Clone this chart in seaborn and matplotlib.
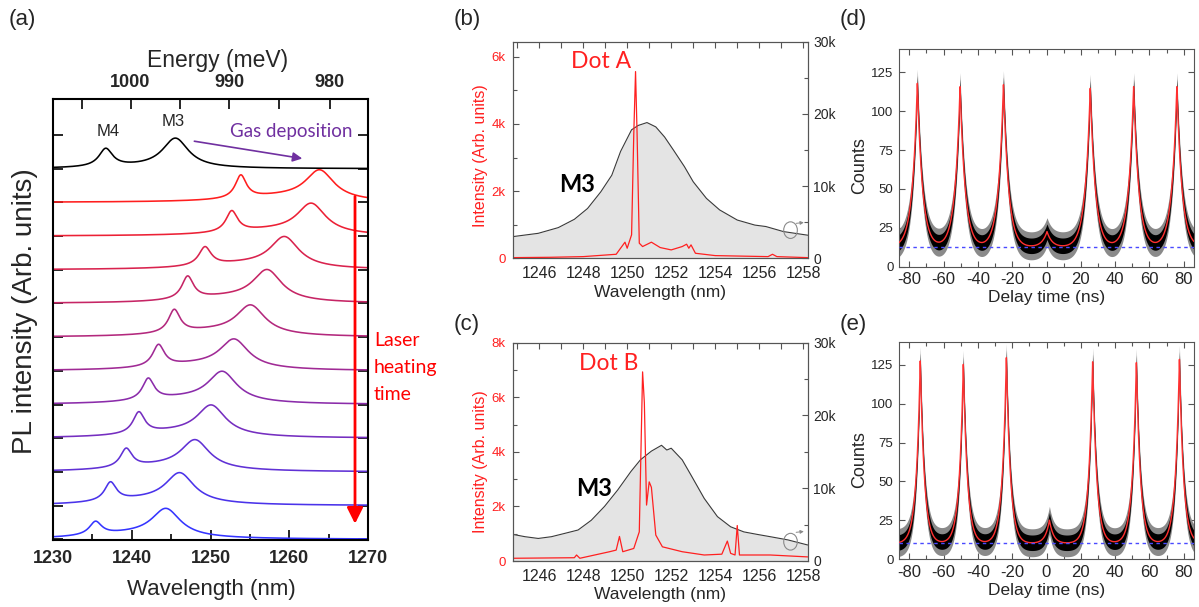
import numpy as np
import pandas as pd
import matplotlib
matplotlib.use("Agg")
import matplotlib.pyplot as plt
import seaborn as sns
from matplotlib.patches import Ellipse
from matplotlib.ticker import MultipleLocator, FuncFormatter, FixedLocator
from matplotlib.colors import LinearSegmentedColormap

sns.set_theme(style="ticks")
plt.rcParams["font.family"] = ["Liberation Sans", "DejaVu Sans"]
plt.rcParams["axes.unicode_minus"] = False
ANN = ["Lato", "DejaVu Sans"]

# ---------------- Panel (a): PL spectra (level 0 = bottom, 11 = black/gas) --------
a_levels = [0, 1, 2, 3, 4, 5, 6, 7, 8, 9, 10, 11]
a_m4_nm = [1235.4, 1237.3, 1239.3, 1240.9, 1242.1, 1243.4, 1245.4, 1247.1, 1249.3, 1252.7, 1253.85, 1236.7]
a_m4_h = [0.54, 0.71, 0.71, 0.79, 0.79, 0.79, 0.83, 0.82, 0.69, 0.76, 0.82, 0.61]
a_m4_hwhm = [0.95, 0.9, 0.9, 0.9, 0.9, 0.9, 0.9, 0.9, 0.95, 0.9, 0.85, 1.05]
a_m3_nm = [1244.35, 1246.1, 1248.05, 1250.1, 1251.5, 1253.0, 1255.1, 1257.2, 1259.4, 1262.8, 1263.86, 1245.55]
a_m3_h = [0.92, 0.98, 0.96, 0.99, 0.99, 0.95, 0.96, 1.01, 0.99, 0.98, 0.97, 0.91]
a_m3_hwhm = [2.2, 2.2, 2.2, 2.2, 2.2, 2.2, 2.2, 2.2, 2.2, 2.2, 2.2, 2.0]
a_bg = [0.14, 0.15, 0.15, 0.16, 0.16, 0.16, 0.16, 0.16, 0.15, 0.15, 0.15, 0.05]
a_xticks = [1230, 1240, 1250, 1260, 1270]
a_eticks = [980, 990, 1000]

# ---------------- Panels (b),(c): spectra (values in k counts) ----------------
b_m3_nm = [1244.8, 1245.96, 1246.87, 1247.6, 1248.2, 1248.8, 1249.3, 1249.7, 1250.2, 1250.5,
           1250.9, 1251.3, 1251.7, 1252.1, 1252.6, 1253.0, 1253.6, 1254.2, 1255.0, 1255.8,
           1256.3, 1257.1, 1258.2]
b_m3_k = [3.0, 3.46, 4.25, 5.4, 6.9, 9.2, 11.5, 14.8, 17.8, 18.4,
          18.8, 18.2, 16.8, 15.0, 12.7, 10.6, 8.3, 6.7, 5.3, 4.6,
          4.4, 3.7, 3.2]
b_dot_nm = [1244.8, 1246.5, 1248.0, 1249.5, 1249.9, 1250.0, 1250.2, 1250.3, 1250.38, 1250.45,
            1250.55, 1250.7, 1251.1, 1251.5, 1252.0, 1252.5, 1252.7, 1252.8, 1252.9, 1253.1,
            1254.0, 1256.4, 1256.6, 1256.8, 1258.2]
b_dot_k = [0.02, 0.03, 0.05, 0.12, 0.48, 0.3, 0.7, 3.7, 5.56, 3.7,
           0.45, 0.35, 0.48, 0.32, 0.25, 0.35, 0.42, 0.3, 0.4, 0.15,
           0.08, 0.05, 0.12, 0.05, 0.02]

c_m3_nm = [1244.8, 1245.36, 1245.96, 1246.56, 1247.17, 1247.77, 1248.37, 1248.97, 1249.57, 1250.17,
           1250.6, 1251.1, 1251.56, 1251.8, 1252.0, 1252.5, 1252.9, 1253.5, 1254.1, 1254.7,
           1255.3, 1255.9, 1256.5, 1257.3, 1258.2]
c_m3_k = [3.66, 3.34, 3.1, 3.34, 3.8, 4.26, 5.6, 7.5, 9.76, 12.3,
          13.9, 15.1, 15.9, 15.25, 15.5, 13.9, 11.8, 8.6, 6.1, 4.7,
          4.0, 3.66, 3.34, 2.9, 2.2]
c_dot_nm = [1244.8, 1247.6, 1247.7, 1247.85, 1249.2, 1249.5, 1249.65, 1249.8, 1250.3, 1250.55,
            1250.7, 1250.78, 1250.88, 1251.0, 1251.1, 1251.3, 1251.6, 1252.5, 1253.5, 1254.3,
            1254.55, 1254.7, 1254.9, 1255.0, 1255.1, 1256.5, 1258.2]
c_dot_k = [0.1, 0.12, 0.22, 0.1, 0.34, 0.4, 0.9, 0.34, 0.46, 1.07,
           6.93, 5.8, 2.05, 2.9, 2.7, 0.95, 0.52, 0.34, 0.22, 0.25,
           0.73, 0.28, 0.22, 1.3, 0.22, 0.22, 0.15]

# ---------------- Panels (d),(e): correlation peaks ----------------
d_peak_t = [-75.3, -50.4, -25.1, 0.3, 25.5, 50.8, 76.0]
d_peak_h = [117.9, 115.7, 117.0, 22.5, 114.7, 115.7, 115.7]
d_base = 12.5
d_tau = 3.0
e_peak_t = [-73.6, -48.5, -23.4, 1.7, 26.9, 52.4, 77.5]
e_peak_h = [127.6, 125.4, 129.7, 25.0, 127.0, 126.5, 128.6]
e_base = 10.0
e_tau = 2.4

W, H = 1199, 607
fig = plt.figure(figsize=(W / 100, H / 100), dpi=100)


def box(l, t, r, b):
    return [l / W, 1 - b / H, (r - l) / W, (b - t) / H]


def ftext(x, y, s, **kw):
    fig.text(x / W, 1 - y / H, s, **kw)


axA = fig.add_axes(box(53, 99, 368, 540))
axB = fig.add_axes(box(512.7, 41.7, 807.7, 258.3))
axC = fig.add_axes(box(512.7, 342.7, 807.7, 561))
axD = fig.add_axes(box(899, 49, 1194, 266.7))
axE = fig.add_axes(box(899, 341.7, 1194, 559))


def lor(x, c, g):
    return 1.0 / (1.0 + ((x - c) / g) ** 2)


# ---------- (a) ----------
xa = np.linspace(1230, 1270, 1201)
cmap = LinearSegmentedColormap.from_list("rb", ["#3535ff", "#a02a95", "#ff1e1e"])
frames = []
palette = {}
for i, lev in enumerate(a_levels):
    c1, c2 = a_m4_nm[i], a_m3_nm[i]
    g1, g2 = a_m4_hwhm[i], a_m3_hwhm[i]
    mid = 0.5 * (c1 + c2)
    bg = lambda x: a_bg[i] * lor(x, mid, 7.0)
    M = np.array([[1.0, lor(c1, c2, g2)], [lor(c2, c1, g1), 1.0]])
    rhs = np.array([a_m4_h[i] - bg(c1), a_m3_h[i] - bg(c2)])
    A1, A2 = np.linalg.solve(M, rhs)
    y = lev + bg(xa) + A1 * lor(xa, c1, g1) + A2 * lor(xa, c2, g2)
    frames.append(pd.DataFrame({"nm": xa, "val": y, "trace": f"t{i}"}))
    palette[f"t{i}"] = "black" if lev == 11 else cmap(lev / 10)
dfa = pd.concat(frames)
sns.lineplot(data=dfa, x="nm", y="val", hue="trace", palette=palette, legend=False,
             ax=axA, estimator=None, sort=False, lw=1.15)
axA.set_xlim(1230, 1270)
axA.set_ylim(-0.02, 13.07)
axA.set_xticks(a_xticks)
axA.xaxis.set_minor_locator(MultipleLocator(5))
axA.set_yticks(range(0, 13))
axA.set_yticklabels([])
axA.set_xlabel("")
axA.set_ylabel("")
axA.tick_params(axis="x", which="both", direction="in", top=False, width=1.4, pad=7,
                labelsize=13)
axA.tick_params(axis="x", which="major", length=7)
axA.tick_params(axis="x", which="minor", length=4)
axA.tick_params(axis="y", direction="in", left=True, right=True, length=7, width=1.4)
for lab in axA.get_xticklabels():
    lab.set_fontweight("bold")
for sp in axA.spines.values():
    sp.set_visible(True)
    sp.set_linewidth(1.5)
    sp.set_color("black")

conv = lambda v: 1239841.98 / np.asarray(v, dtype=float)
sec = axA.secondary_xaxis("top", functions=(conv, conv))
sec.set_xticks(a_eticks)
sec.xaxis.set_minor_locator(FixedLocator([985, 995, 1005]))
sec.tick_params(which="both", direction="in", width=1.4, pad=6, labelsize=13)
sec.tick_params(which="major", length=7)
sec.tick_params(which="minor", length=7)
for lab in sec.get_xticklabels():
    lab.set_fontweight("bold")

axA.text(1237.0, 12.1, "M4", ha="center", va="center", fontsize=12)
axA.text(1245.3, 12.4, "M3", ha="center", va="center", fontsize=12)
axA.text(1252.5, 12.12, "Gas deposition", ha="left", va="center", fontsize=13.5,
         color="#7030a0", family=ANN)
axA.annotate("", xy=(1262.0, 11.29), xytext=(1247.6, 11.83),
             arrowprops=dict(arrowstyle="-|>", color="#7030a0", lw=1.2, mutation_scale=14))
axA.annotate("", xy=(1268.35, 0.38), xytext=(1268.35, 10.26),
             arrowprops=dict(arrowstyle="-|>", color="red", lw=2.0, mutation_scale=24))
ftext(374, 340, "Laser", ha="left", va="center", fontsize=14, color="red", family=ANN)
ftext(374, 367, "heating", ha="left", va="center", fontsize=14, color="red", family=ANN)
ftext(374, 394, "time", ha="left", va="center", fontsize=14, color="red", family=ANN)
ftext(218, 60, "Energy (meV)", ha="center", va="center", fontsize=16.5)
ftext(211, 589, "Wavelength (nm)", ha="center", va="center", fontsize=16)
ftext(25, 311, "PL intensity (Arb. units)", ha="center", va="center", fontsize=20, rotation=90)

# ---------- (b), (c) ----------
kfmt = FuncFormatter(lambda v, p: "0" if abs(v) < 1e-9 else f"{v / 1000:g}k")
SP = "#555555"


def spectrum(ax, m3_nm, m3_k, dot_nm, dot_k, left_top, left_major, dot_label, dot_xy, m3_xy,
             circ_y, arr_y):
    m3 = pd.DataFrame({"nm": m3_nm, "cnt": np.array(m3_k) * 1000})
    dot = pd.DataFrame({"nm": dot_nm, "cnt": np.array(dot_k) * 1000})
    ax.fill_between(m3["nm"], 0, m3["cnt"], color="#e4e4e4", lw=0)
    sns.lineplot(data=m3, x="nm", y="cnt", ax=ax, color="#3a3a3a", lw=0.8,
                 estimator=None, sort=False)
    ax.set_xlim(1244.8, 1258.2)
    ax.set_ylim(0, 30000)
    ax.add_patch(Ellipse((1257.42, circ_y), width=0.62, height=2300, fill=False,
                         edgecolor="#8a8a8a", lw=0.8, zorder=5))
    ax.annotate("", xy=(1258.15, arr_y + 200), xytext=(1257.55, arr_y),
                arrowprops=dict(arrowstyle="-|>", color="#8a8a8a", lw=0.7, mutation_scale=5))

    tw = ax.twinx()
    sns.lineplot(data=dot, x="nm", y="cnt", ax=tw, color="#ff2020", lw=0.9,
                 estimator=None, sort=False)
    tw.set_ylim(0, left_top)
    tw.set_xlim(1244.8, 1258.2)

    # right axis (M3 scale) on ax, left axis (dot scale) on twin
    ax.yaxis.set_major_locator(MultipleLocator(10000))
    ax.yaxis.set_minor_locator(MultipleLocator(5000))
    ax.yaxis.set_major_formatter(kfmt)
    ax.tick_params(axis="y", which="both", direction="in", left=False, labelleft=False,
                   right=True, labelright=True, color=SP, width=0.8, labelsize=10, pad=4)
    ax.tick_params(axis="y", which="major", length=4)
    ax.tick_params(axis="y", which="minor", length=3)
    ax.xaxis.set_major_locator(MultipleLocator(2))
    ax.xaxis.set_minor_locator(MultipleLocator(1))
    ax.tick_params(axis="x", which="both", direction="in", top=True, bottom=True,
                   color=SP, width=0.8, labelsize=11.5, pad=5.5, length=4)
    ax.set_xlabel("")
    ax.set_ylabel("")

    tw.yaxis.set_major_locator(MultipleLocator(left_major))
    tw.yaxis.set_minor_locator(MultipleLocator(left_major / 2))
    tw.yaxis.set_major_formatter(kfmt)
    tw.tick_params(axis="y", which="both", direction="in", left=True, labelleft=True,
                   right=False, labelright=False, color=SP, width=0.8, labelsize=9.5,
                   labelcolor="#ff2020", pad=5)
    tw.tick_params(axis="y", which="major", length=4)
    tw.tick_params(axis="y", which="minor", length=3)
    tw.set_xlabel("")
    tw.set_ylabel("")
    for a in (ax, tw):
        for sp in a.spines.values():
            sp.set_visible(True)
            sp.set_color(SP)
            sp.set_linewidth(0.8)
    tw.text(dot_xy[0], dot_xy[1], dot_label, transform=fig.transFigure, ha="left",
            va="center", fontsize=16.5, color="#ff2020", family=ANN)
    tw.text(m3_xy[0], m3_xy[1], "M3", transform=fig.transFigure, ha="left", va="center",
            fontsize=17, fontweight="bold", color="black", family=ANN)
    return tw


spectrum(axB, b_m3_nm, b_m3_k, b_dot_nm, b_dot_k, 6450, 2000, "Dot A",
         (571 / W, 1 - 62 / H), (559 / W, 1 - 185 / H), 3900, 4800)
spectrum(axC, c_m3_nm, c_m3_k, c_dot_nm, c_dot_k, 8000, 2000, "Dot B",
         (579 / W, 1 - 363 / H), (576 / W, 1 - 489 / H), 2650, 3900)
ftext(481, 156, "Intensity (Arb. units)", ha="center", va="center", fontsize=11.5,
      rotation=90, color="#ff2020")
ftext(481, 462, "Intensity (Arb. units)", ha="center", va="center", fontsize=11.5,
      rotation=90, color="#ff2020")
ftext(660, 293, "Wavelength (nm)", ha="center", va="center", fontsize=12.5)
ftext(660, 595, "Wavelength (nm)", ha="center", va="center", fontsize=12.5)

# ---------- (d), (e) ----------
t = np.linspace(-86, 86, 6881)


def g2panel(ax, peak_t, peak_h, base, tau, label_y_counts, label_y_delay):
    fit = np.full_like(t, base)
    for tp, hp in zip(peak_t, peak_h):
        fit = fit + (hp - base) * np.exp(-np.abs(t - tp) / tau)
    df = pd.DataFrame({"t": t, "fit": fit})
    ax.fill_between(t, fit - 9, fit + 9, color="#8a8a8a", lw=0, zorder=1)
    ax.fill_between(t, fit - 5, fit + 5, color="black", lw=0, zorder=2)
    sns.lineplot(data=df, x="t", y="fit", ax=ax, color="#ff3030", lw=1.0,
                 estimator=None, sort=False, zorder=3)
    ax.axhline(base, color="#4a4aff", lw=1.0, ls=(0, (2.5, 2.5)), zorder=4)
    ax.set_xlim(-86, 86)
    ax.set_ylim(0, 140)
    ax.xaxis.set_major_locator(MultipleLocator(20))
    ax.xaxis.set_minor_locator(MultipleLocator(10))
    ax.yaxis.set_major_locator(MultipleLocator(25))
    ax.tick_params(axis="both", which="both", direction="in", top=True, right=True,
                   color=SP, width=0.8)
    ax.tick_params(axis="both", which="major", length=4)
    ax.tick_params(axis="both", which="minor", length=3)
    ax.tick_params(axis="x", labelsize=12, pad=4)
    ax.tick_params(axis="y", labelsize=9.5, pad=4)
    ax.set_xlabel("")
    ax.set_ylabel("")
    for sp in ax.spines.values():
        sp.set_visible(True)
        sp.set_color(SP)
        sp.set_linewidth(0.8)
    ftext(860, label_y_counts, "Counts", ha="center", va="center", fontsize=13, rotation=90)
    ftext(1047, label_y_delay, "Delay time (ns)", ha="center", va="center", fontsize=12.5)


g2panel(axD, d_peak_t, d_peak_h, d_base, d_tau, 166, 297)
g2panel(axE, e_peak_t, e_peak_h, e_base, e_tau, 460, 591)

# panel letters
for s, x, y in [("(a)", 22, 20), ("(b)", 467, 19), ("(c)", 467, 325),
                ("(d)", 853, 19), ("(e)", 853, 325)]:
    ftext(x, y, s, ha="center", va="center", fontsize=16)

fig.savefig("out.png", dpi=100)
